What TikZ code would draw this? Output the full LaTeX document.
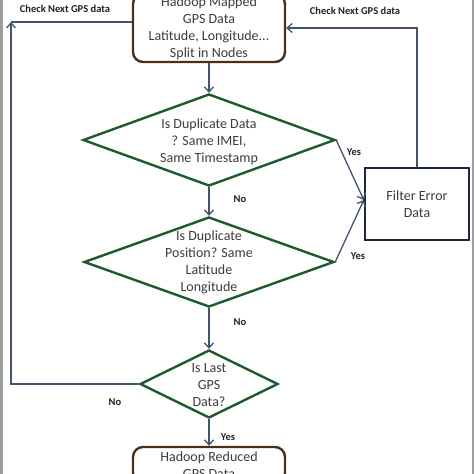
\documentclass[tikz,border=0pt]{standalone}
\usepackage{fontspec}
\setmainfont{Carlito}
\usetikzlibrary{shapes.geometric,arrows.meta}
\definecolor{lineblue}{HTML}{44546E}
\definecolor{dgreen}{HTML}{1D5A2E}
\definecolor{brownc}{HTML}{4B2F17}
\definecolor{navyc}{HTML}{1A2740}
\definecolor{textc}{HTML}{3C3C3C}
\definecolor{labelc}{HTML}{222222}
\definecolor{edgegray}{HTML}{9E9E9E}
\begin{document}
\begin{tikzpicture}[x=1pt,y=-1pt,
  txt/.style={font=\fontsize{14}{17}\selectfont, text=textc, align=center},
  lbl/.style={font=\fontsize{10.5}{12}\selectfont\bfseries, text=labelc},
  conn/.style={draw=lineblue, line width=1.3pt, -{Straight Barb[length=5pt,width=9pt,line width=1.3pt]}},
  plainline/.style={draw=lineblue, line width=1.3pt},
  decision/.style={diamond, draw=dgreen, line width=2.4pt, inner sep=0pt, fill=white},
  dtext/.style={txt, inner sep=0pt},
  procbox/.style={txt, draw=brownc, line width=2.4pt, rounded corners=10pt, inner sep=0pt, fill=white},
  filterbox/.style={txt, draw=navyc, line width=2.4pt, inner sep=0pt, fill=white}]
\useasboundingbox (0,0) rectangle (474,474);
\clip (0,0) rectangle (474,474);
\fill[white] (0,0) rectangle (474,474);
\fill[edgegray] (0,0) rectangle (2.5,474);
\fill[edgegray] (471.5,0) rectangle (474,474);

% nodes
\node[procbox, minimum width=152pt, minimum height=68pt] (map) at (209,28)
  {Hadoop Mapped\\GPS Data\\Latitude, Longitude...\\Split in Nodes};
\node[decision, minimum width=252pt, minimum height=92pt,
  label={[dtext, yshift=-2pt]center:{Is Duplicate Data\\? Same IMEI,\\Same Timestamp}}] (d1) at (209,140) {};
\node[decision, minimum width=250pt, minimum height=90pt,
  label={[dtext]center:{Is Duplicate\\Position? Same\\Latitude\\Longitude}}] (d2) at (209,262) {};
\node[decision, minimum width=138pt, minimum height=68pt,
  label={[dtext, yshift=-1pt]center:{Is Last\\GPS\\Data?}}] (d3) at (209,384) {};
\node[filterbox, minimum width=104pt, minimum height=72pt] (filt) at (417,204) {Filter Error\\Data};
\node[procbox, minimum width=152pt, minimum height=36pt] (red) at (209,465) {Hadoop Reduced\\GPS Data};

% connectors
\draw[conn] (map.south) -- (d1.north);
\draw[conn] (d1.south) -- (d2.north);
\draw[conn] (d2.south) -- (d3.north);
\draw[conn] (d3.south) -- (red.north);
\draw[conn] (d1.east) -- ([yshift=4pt]filt.west);
\draw[conn] (d2.east) -- ([yshift=4pt]filt.west);
\draw[conn] (filt.north) |- (map.east);
\coordinate (lc) at (11,22);
\draw[conn] (d3.west) -| (lc);
\draw[plainline] (map.west |- lc) -- (lc);

% labels
\node[lbl] (chkL) at (65,9) {Check Next GPS data};
\node[lbl] (chkR) at (355,11) {Check Next GPS data};
\node[lbl] (yes1) at (354,152) {Yes};
\node[lbl] (no1) at (240,199) {No};
\node[lbl] (yes2) at (358,256) {Yes};
\node[lbl] (no2) at (240,322) {No};
\node[lbl] (no3) at (115,402) {No};
\node[lbl] (yes3) at (228,437) {Yes};
\end{tikzpicture}
\end{document}
